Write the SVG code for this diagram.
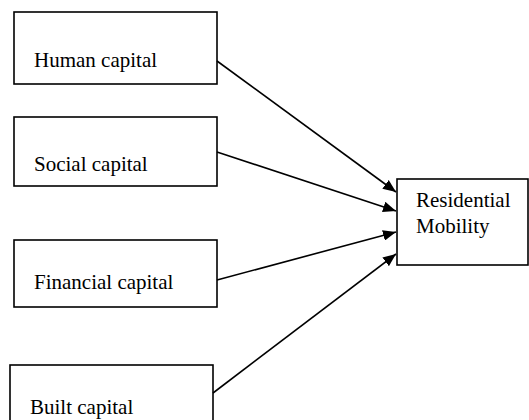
<svg xmlns="http://www.w3.org/2000/svg" width="529" height="420" viewBox="0 0 529 420">
<defs>
<style>
.box{fill:#fff;stroke:#000;stroke-width:1.6}
.lbl{font-family:"Liberation Serif","Times New Roman",serif;font-size:21px;fill:#000}
.edge{stroke:#000;stroke-width:1.6;fill:none;marker-end:url(#ah)}
</style>
<marker id="ah" viewBox="0 0 12 10" refX="12" refY="5" markerWidth="13" markerHeight="11" markerUnits="userSpaceOnUse" orient="auto">
<path d="M0,0 L12,5 L0,10 Z" fill="#000"/>
</marker>
</defs>
<rect width="529" height="420" fill="#fff"/>
<g id="human">
<rect class="box" x="14" y="12" width="203" height="72"/>
<text class="lbl" x="34" y="67">Human capital</text>
</g>
<g id="social">
<rect class="box" x="14" y="117" width="203" height="69"/>
<text class="lbl" x="34" y="171">Social capital</text>
</g>
<g id="financial">
<rect class="box" x="14" y="240" width="203" height="67"/>
<text class="lbl" x="34" y="289">Financial capital</text>
</g>
<g id="built">
<rect class="box" x="10" y="365" width="203" height="70"/>
<text class="lbl" x="30" y="414">Built capital</text>
</g>
<g id="residential">
<rect class="box" x="397" y="179" width="131" height="86"/>
<text class="lbl" x="416" y="207">Residential</text>
<text class="lbl" x="416" y="233">Mobility</text>
</g>
<g id="connectors">
<line class="edge" x1="217" y1="61" x2="396" y2="192"/>
<line class="edge" x1="217" y1="152" x2="396" y2="211"/>
<line class="edge" x1="217" y1="280" x2="396" y2="232"/>
<line class="edge" x1="213" y1="393" x2="396" y2="254"/>
</g>
</svg>
